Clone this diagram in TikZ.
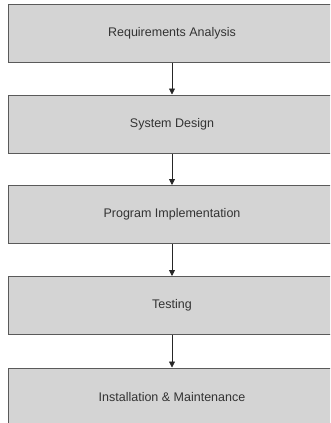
\documentclass[tikz,border=0pt]{standalone}
\usepackage{fontspec}
\setmainfont{Liberation Sans}
\usetikzlibrary{arrows.meta}
\definecolor{boxfill}{HTML}{D4D4D4}
\definecolor{boxline}{HTML}{5A5A5A}
\definecolor{txt}{HTML}{333333}
\begin{document}
\begin{tikzpicture}[x=1pt,y=-1pt,
  stage/.style={draw=boxline, line width=1pt, fill=boxfill, rectangle,
    minimum width=328pt, minimum height=58pt, inner sep=0pt,
    font=\fontsize{12.5}{14}\selectfont, text=txt},
  flow/.style={draw=black!85, line width=0.8pt, -{Triangle[length=6pt,width=6pt]}}]
\useasboundingbox (0,0) rectangle (330,423);
\fill[white] (0,0) rectangle (330,423);
\begin{scope}
\clip (0,0) rectangle (330,423);
\node[stage] (a) at (172,33) {Requirements Analysis};
\node[stage] (b) at (172,124) {System Design};
\node[stage] (c) at (172,214.5) {Program Implementation};
\node[stage] (d) at (172,305.5) {Testing};
\node[stage] (e) at (172,397) {Installation \& Maintenance};
\end{scope}
\draw[flow] (a) -- (b);
\draw[flow] (b) -- (c);
\draw[flow] (c) -- (d);
\draw[flow] (d) -- (e);
\end{tikzpicture}
\end{document}
